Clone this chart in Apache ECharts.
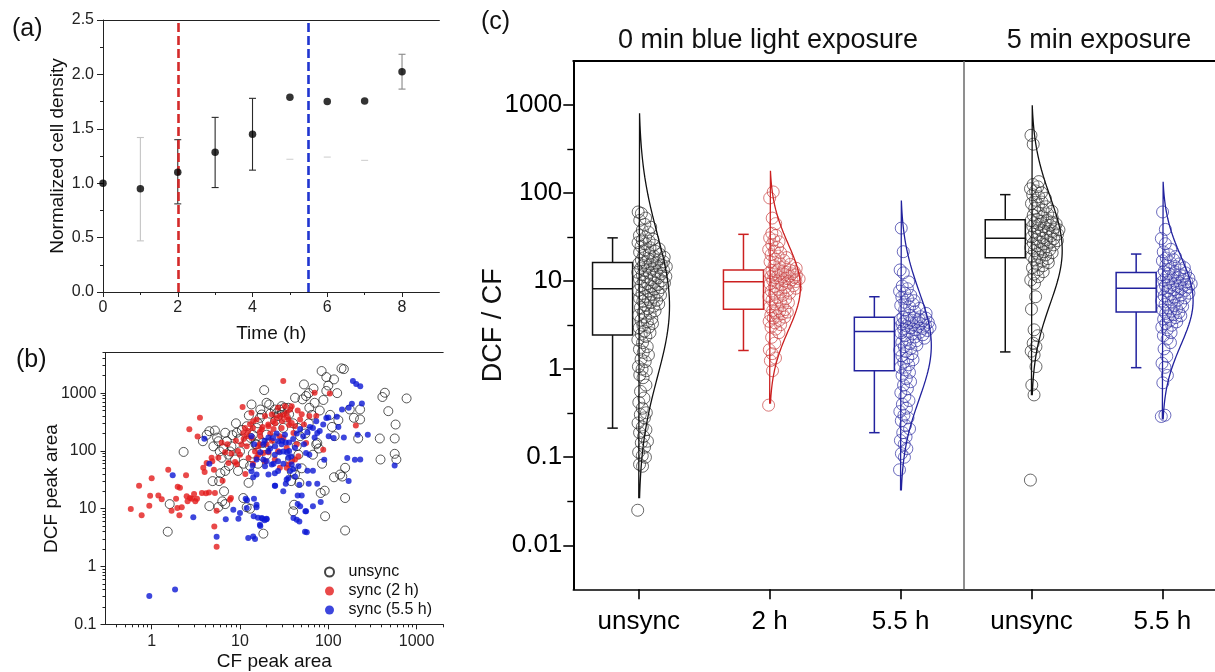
<!DOCTYPE html>
<html><head><meta charset="utf-8">
<script src="https://cdn.jsdelivr.net/npm/echarts@6/dist/echarts.min.js"></script>
<style>html,body{margin:0;padding:0;background:#fff}#c{width:1215px;height:672px}</style>
</head><body><div id="c"></div>
<script>
// ---------- Panel (a): normalized cell density ----------
const aTime = [0, 1, 2, 3, 4, 5, 6, 7, 8];
const aMean = [1.00, 0.95, 1.10, 1.285, 1.45, 1.79, 1.75, 1.755, 2.025];
const aErrLow = [null, 0.47, 0.81, 0.96, 1.12, 1.22, 1.24, 1.21, 1.865];
const aErrHigh = [null, 1.42, 1.40, 1.605, 1.78, null, null, null, 2.185];
const syncTimes = [2, 5.5];

// ---------- Panel (b): DCF vs CF peak area [CF, DCF] ----------
const bUnsync = [[2.3,96],[1.52,4.0],[1.6,12],[3.8,147],[4.5,219],[5.2,225],[5.7,147],[5.0,120],[5.9,98],[6.8,206],[7.1,147],[8.2,187],[9.2,206],[7.4,86],[6.0,41],[6.8,45],[5.8,30],[6.6,20],[5.7,10.7],[4.5,11.1],[6.8,12],[10.9,15.3],[11.9,10.6],[18.4,3.7],[13.5,636],[18.8,1127],[20,680],[16.8,373],[15.4,250],[13.2,168],[10,98],[8.8,71],[7.7,98],[6.2,76],[11.9,267],[15.4,130],[18,137],[20,191],[21,130],[20,86],[4.9,30],[6.3,13.4],[12.5,28],[13,10],[9.8,160],[10.5,230],[12,150],[8,120],[14,190],[16,300],[11,60],[9.5,45],[7.5,55],[6.5,110],[5.5,170],[4.2,190],[9,300],[12.6,410],[17,520],[22,440],[14,90],[16,60],[19,110],[13,55],[21.4,636],[17.6,426],[24.8,520],[27,400],[30.9,250],[29.6,594],[35.3,557],[42,830],[53,1413],[56,890],[51,780],[61,557],[70,680],[84,2409],[95,1893],[116,1726],[141,2681],[150,2600],[126,1000],[95,1090],[175,521],[195,374],[229,521],[229,350],[437,1014],[410,856],[770,809],[478,487],[578,286],[383,164],[565,164],[565,89],[390,71],[590,71],[218,164],[155,51],[136,39],[116,35],[144,36],[155,15.3],[91,20.5],[82,18.7],[92,7.4],[155,4.2],[41,11.7],[40,9],[36.9,71],[45.9,86],[43.9,121],[73,130],[67,86],[15,130],[24.8,164],[38.5,44.5],[42,39],[118,180],[75,137],[26,450],[28,520],[30,470],[32,560],[25,330],[33,380],[36,430],[40,300],[45,250],[48,180],[55,200],[60,300],[65,420],[80,500],[88,760],[105,420],[110,260],[130,340],[68,1200],[100,1350],[60,1000],[78,110],[85,60],[50,50],[47,28],[38,30]];
const bSync2 = [[0.58,9.9],[0.72,25],[0.77,7.7],[1.0,33.6],[0.96,16.8],[0.94,11.3],[1.19,17],[1.3,14.5],[1.54,47],[1.68,9.2],[1.89,14.9],[1.97,24],[2.09,23],[1.95,10.3],[2.06,7.7],[2.19,10.6],[2.45,38],[2.49,16.4],[2.55,13.4],[2.67,238],[2.72,15.3],[2.86,14.9],[3.02,18],[3.12,13.4],[3.26,14.9],[3.31,177],[3.52,373],[3.71,18.7],[4.12,18.5],[4.46,19],[5.2,18.7],[3.84,51],[3.98,43],[4.19,62],[4.77,76],[5.07,47],[4.86,66],[5.12,4.9],[5.44,2.19],[5.44,9.2],[6.35,30.6],[7.7,14.3],[7.9,15.3],[5.68,76],[6.2,138],[7.2,130],[7.4,62],[8.8,64],[9.2,59],[10,86],[10.4,130],[10.9,205],[10.7,572],[11.4,250],[11.9,120],[12.4,220],[13.5,456],[13.5,168],[14.1,326],[14.8,98],[15.4,76],[16.8,213],[18.4,92],[19.2,400],[20,130],[21,267],[15.4,349],[17.6,235],[16.8,130],[16.1,86],[19.2,66],[20.9,286],[22.9,426],[23.8,326],[27,557],[28.3,400],[29.6,250],[30.9,1615],[32.3,594],[33.8,457],[35.3,349],[36.9,520],[38.5,305],[38.5,594],[40.3,205],[42,267],[43.9,130],[45.9,81],[35.3,58],[33.8,113],[30.9,168],[27,99],[24.8,71],[28.3,51],[38.5,66],[42,71],[53,286],[56,137],[61,400],[70,1014],[73,400],[87.6,105],[104,980],[205,275],[33.8,51],[9.5,100],[11,160],[12,180],[13,290],[14,250],[17,180],[18,260],[22,200],[24,240],[25,300],[26,380],[30,330],[31,420],[34,380],[36,280],[12.5,75],[16,120],[21,95],[23,150],[28,180],[8,90],[9,150],[6.8,95],[11.5,40],[14,60],[45,500],[50,430],[48,350]];
const bSync55 = [[0.94,0.31],[1.84,0.40],[1.73,38],[2.96,7.1],[3.95,162],[4.5,60],[5.44,3.27],[6.9,6.6],[8.4,9.6],[9.6,6.7],[10,8.4],[11.6,14.9],[14.4,14.9],[15.4,10.6],[14.3,7.4],[16.8,5.3],[12.4,3.1],[14.1,3.3],[14.8,3.0],[18,6.7],[20,6.6],[13.5,180],[13.9,56],[13.5,44.5],[14.1,35],[15.4,39],[18.4,71],[19.2,54],[20,66],[21,39],[11.9,10.3],[15.4,71],[18.4,130],[20.9,98],[23.8,168],[27,147],[29.6,130],[24.8,86],[32.3,191],[30.9,98],[27,66],[22.9,58],[24.8,41],[35.3,76],[38.5,58],[42,113],[53,130],[56,92],[61,86],[45.9,54],[42,36],[58,45.5],[67,45.5],[33.8,32],[30.9,20],[24.8,25],[35.3,34],[67,250],[73,326],[75,205],[87.6,286],[95,370],[101,180],[115,168],[143,521],[164,75],[185,653],[190,1615],[207,1430],[230,1320],[215,191],[230,71],[564,56],[56,9],[54.5,4.0],[43.9,6.45],[45,12],[40.3,6.9],[67,11],[15.4,11.7],[17.6,6.9],[20,6.7],[22,110],[25,120],[26,200],[28,95],[30,150],[33,140],[36,100],[40,160],[44,200],[48,240],[52,180],[58,210],[62,260],[70,170],[80,220],[100,380],[125,390],[130,260],[150,170],[170,560],[170,30],[200,70],[240,660],[280,190],[14.5,130],[17,95],[19,150],[21,170],[24,60],[27,45],[31,60],[34,95],[36,140],[38,80],[40,48],[47,26],[50,17],[57,3.9],[60,27],[75,27],[82,13],[90,70],[45,17],[48,11],[47,6],[55,9],[37,45],[33,27],[25,25],[12,14],[16,7],[19,6.3],[17,5]];

// ---------- Panel (c): DCF / CF per group ----------
const cCats = ['unsync', '2 h', '5.5 h', 'unsync', '5.5 h'];
const cUnsync0 = [0.025,0.079,0.083,0.1,0.104,0.114,0.13,0.146,0.152,0.172,0.19,0.205,0.22,0.245,0.28,0.305,0.32,0.36,0.42,0.47,0.56,0.66,0.8,0.86,0.96,1.0,1.07,1.22,1.3,1.45,1.55,1.68,1.8,2.0,2.15,2.35,2.5,2.6,2.7,2.95,3.0,3.15,3.3,3.45,3.6,3.75,3.9,4.1,4.3,4.4,4.6,4.85,5.0,5.2,5.35,5.5,5.7,5.9,6.05,6.2,6.4,6.55,6.7,6.95,7.1,7.25,7.5,7.7,7.85,8.1,8.3,8.45,8.7,8.9,9.1,9.35,9.5,9.7,9.95,10.1,10.4,10.6,10.9,11.1,11.3,11.6,11.8,12.1,12.3,12.6,12.8,13.1,13.3,13.6,13.9,14.1,14.4,14.6,14.9,15.1,15.4,15.6,15.9,16.1,16.3,16.6,17.0,17.4,17.8,18.2,18.7,19.1,19.6,20.2,20.7,21.3,21.9,22.6,23.2,24,24.8,25.6,26.5,27.4,28.5,29.3,30,31.5,33,36,38,41,44,49,52,58.7,61];
const cSync2 = [0.39,0.96,1.25,1.34,1.5,1.66,1.97,2.3,2.6,2.85,3.0,3.2,3.35,3.5,3.6,3.8,3.9,4.0,4.1,4.25,4.35,4.45,4.55,4.65,4.75,4.9,5.1,5.3,5.5,5.7,5.9,6.1,6.3,6.5,6.7,6.9,7.1,7.3,7.5,7.7,7.9,8.1,8.3,8.5,8.7,8.9,9.1,9.3,9.5,9.7,9.9,10.05,10.2,10.35,10.5,10.6,10.75,10.9,11.0,11.15,11.3,11.45,11.6,11.75,11.9,12.0,12.15,12.3,12.45,12.6,12.75,12.9,13.05,13.2,13.35,13.6,14.0,14.5,15.0,15.5,16.0,16.6,17.2,17.8,18.5,19.2,20.0,21.0,22.0,22.8,24,26,28,29.3,31,33,35,45,52,88,103];
const cSync55 = [0.072,0.1,0.11,0.125,0.14,0.155,0.17,0.19,0.21,0.23,0.26,0.28,0.3,0.33,0.36,0.4,0.44,0.49,0.54,0.6,0.66,0.72,0.78,0.85,0.92,0.98,1.05,1.12,1.2,1.28,1.35,1.42,1.5,1.58,1.65,1.72,1.8,1.88,1.95,2.02,2.1,2.18,2.25,2.32,2.4,2.46,2.52,2.58,2.63,2.7,2.75,2.8,2.85,2.9,2.95,3.0,3.05,3.1,3.15,3.2,3.25,3.3,3.35,3.4,3.45,3.5,3.55,3.6,3.65,3.7,3.75,3.8,3.85,3.88,3.95,4.1,4.3,4.5,4.7,4.9,5.1,5.3,5.5,5.75,6.0,6.3,6.6,6.9,7.3,7.7,8.2,8.8,9.8,12.4,13.4,21.6,40];
const c5Unsync = [0.055,0.51,0.66,1.07,1.45,1.6,1.8,1.97,2.4,2.8,4.8,6.65,9.4,10.3,11.2,12,12.8,13.5,14.2,15,15.6,16.2,16.8,17.4,18.0,18.6,19.2,19.8,20.4,21,21.6,22.2,22.8,23.4,24,24.6,25.2,25.8,26.4,27,27.6,28.2,28.8,29.4,30,30.3,31,31.8,32.6,33.4,34.2,35,35.8,36.6,37.4,38.2,39,39.8,40.6,41.4,42.2,43,43.8,44.6,45.4,46.2,47,47.8,48.6,49.3,50.5,52,54,56,58,60,62,64,67,70,73,76,79,83,87,91,96,101,106,112,118,125,135,359,453];
const c5Sync55 = [0.29,0.3,0.7,0.85,1.05,1.17,1.4,1.7,2.0,2.2,2.4,2.6,2.8,3.0,3.15,3.3,3.45,3.6,3.7,3.85,3.95,4.05,4.15,4.3,4.4,4.55,4.7,4.85,5.0,5.15,5.3,5.45,5.6,5.8,5.95,6.1,6.3,6.45,6.6,6.8,6.95,7.1,7.3,7.5,7.7,7.85,8.0,8.15,8.25,8.4,8.55,8.7,8.85,9.0,9.15,9.3,9.5,9.65,9.8,10.0,10.2,10.4,10.6,10.8,11.0,11.2,11.4,11.6,11.8,12.0,12.2,12.4,12.7,13.0,13.4,13.8,14.2,14.7,15.2,15.7,16.3,17.0,17.6,18.3,19.0,20,21.5,23,26.6,30.5,38.7,61];
const cWhiskLo = [0.214, 1.63, 0.19, 1.57, 1.04];
const cQ1 = [2.44, 4.79, 0.96, 18.4, 4.47];
const cMedian = [8.2, 9.85, 2.67, 30.6, 8.3];
const cQ3 = [16.3, 13.4, 3.89, 49.7, 12.5];
const cWhiskHi = [31, 34, 6.65, 96, 20.3];
const cDistGeoMean = [5.25, 8.5, 1.86, 22.4, 6.0];   // centre of fitted (log-normal) curve
const cDistSdDecades = [0.81, 0.49, 0.61, 0.61, 0.50];
const cExposureTitles = ['0 min blue light exposure', '5 min exposure'];

// ---------- styling / layout ----------
const FONT = '"Liberation Sans", Arial, Helvetica, sans-serif';
const L = Math.log10;
const aErrColor = [null, '#c4c4c4', '#333', '#2a2a2a', '#2a2a2a', '#d0d0d0', '#d0d0d0', '#d0d0d0', '#888'];
const aErrLineShown = [false, true, true, true, true, false, false, false, true];
const cGroups = [cUnsync0, cSync2, cSync55, c5Unsync, c5Sync55];
const cLineColor = ['#111', '#cc2020', '#22229e', '#111', '#22229e'];
const cPointColor = ['rgba(35,35,35,0.85)', 'rgba(200,60,60,0.85)', 'rgba(40,40,160,0.85)', 'rgba(35,35,35,0.85)', 'rgba(40,40,160,0.85)'];

function powLabel(v) {
  const n = Math.round(v);
  return n >= 0 ? String(Math.round(Math.pow(10, n))) : Math.pow(10, n).toFixed(-n);
}
function minorLogs(lo, hi) {
  const out = [];
  for (let d = -3; d <= 4; d++) for (let k = 2; k <= 9; k++) {
    const v = k * Math.pow(10, d);
    if (v > lo * 1.0001 && v < hi * 1.0001) out.push(L(v));
  }
  return out;
}
// deterministic beeswarm-like spread: width grows with local density
function spread(vals, ci) {
  const lg = vals.map(L);
  const dens = lg.map(a => lg.filter(b => Math.abs(a - b) < 0.18).length);
  const mx = Math.max.apply(null, dens);
  return lg.map((y, i) => {
    const f = (i * 0.6180339887) % 1;
    return [ci - 0.008 + f * (0.035 + 0.2 * dens[i] / mx), y];
  });
}
function distCurve(ci, gm, sd) {
  const mu = L(gm), lo = mu - 2.7 * sd, hi = mu + 2.7 * sd, n = 90, pts = [];
  for (let k = 0; k <= n; k++) {
    const y = lo + (hi - lo) * k / n;
    pts.push([ci + 0.235 * Math.exp(-((y - mu) * (y - mu)) / (2 * sd * sd)), y]);
  }
  pts.push([ci, hi]); pts.push([ci, lo]);
  return pts;
}

const noSplit = { splitLine: { show: false }, minorSplitLine: { show: false } };
const nameStyle = (s) => ({ fontSize: s, color: '#111', fontFamily: FONT });

const xAxis = [
  Object.assign({ gridIndex: 0, type: 'value', min: 0, max: 9, position: 'bottom',
    axisLine: { show: true, onZero: false, lineStyle: { color: '#222', width: 1 } },
    axisTick: { show: true, customValues: [0, 2, 4, 6, 8], length: 5, lineStyle: { color: '#222' } },
    axisLabel: { show: true, customValues: [0, 2, 4, 6, 8], fontSize: 16, color: '#222', margin: 8, fontFamily: FONT },
    name: 'Time (h)', nameLocation: 'middle', nameGap: 32, nameMoveOverlap: false, nameTextStyle: nameStyle(19) }, noSplit),
  Object.assign({ gridIndex: 0, type: 'value', min: 0, max: 9, position: 'bottom',
    axisLine: { show: false, onZero: false }, axisTick: { show: true, customValues: [1, 3, 5, 7], length: 3, lineStyle: { color: '#222' } },
    axisLabel: { show: false } }, noSplit),
  Object.assign({ gridIndex: 0, type: 'value', min: 0, max: 9, position: 'top',
    axisLine: { show: true, onZero: false, lineStyle: { color: '#222' } }, axisTick: { show: false }, axisLabel: { show: false } }, noSplit),
  // (b)
  Object.assign({ gridIndex: 1, type: 'value', min: L(0.3), max: L(2000), position: 'bottom',
    axisLine: { show: true, onZero: false, lineStyle: { color: '#222' } },
    axisTick: { show: true, customValues: [0, 1, 2, 3], length: 5, lineStyle: { color: '#222' } },
    axisLabel: { show: true, customValues: [0, 1, 2, 3], formatter: powLabel, fontSize: 16, color: '#222', margin: 9, fontFamily: FONT },
    name: 'CF peak area', nameLocation: 'middle', nameGap: 28, nameMoveOverlap: false, nameTextStyle: nameStyle(19) }, noSplit),
  Object.assign({ gridIndex: 1, type: 'value', min: L(0.3), max: L(2000), position: 'bottom',
    axisLine: { show: false, onZero: false }, axisTick: { show: true, customValues: minorLogs(0.3, 2000), length: 3, lineStyle: { color: '#222' } },
    axisLabel: { show: false } }, noSplit),
  Object.assign({ gridIndex: 1, type: 'value', min: L(0.3), max: L(2000), position: 'top',
    axisLine: { show: true, onZero: false, lineStyle: { color: '#222' } }, axisTick: { show: false }, axisLabel: { show: false } }, noSplit),
  // (c)
  Object.assign({ gridIndex: 2, type: 'value', min: -0.5, max: 4.5, position: 'bottom',
    axisLine: { show: true, onZero: false, lineStyle: { color: '#000', width: 1.6 } },
    axisTick: { show: true, customValues: [0, 1, 2, 3, 4], length: 10, lineStyle: { color: '#000', width: 1.6 } },
    axisLabel: { show: true, customValues: [0, 1, 2, 3, 4], formatter: v => cCats[Math.round(v)], fontSize: 26, color: '#000', margin: 20, fontFamily: FONT } }, noSplit),
  Object.assign({ gridIndex: 2, type: 'value', min: -0.5, max: 4.5, position: 'top',
    axisLine: { show: true, onZero: false, lineStyle: { color: '#000', width: 2 } }, axisTick: { show: false }, axisLabel: { show: false } }, noSplit)
];

const yAxis = [
  Object.assign({ gridIndex: 0, type: 'value', min: 0, max: 2.5, interval: 0.5, position: 'left',
    axisLine: { show: true, onZero: false, lineStyle: { color: '#222' } },
    axisTick: { show: true, length: 6, lineStyle: { color: '#222' } },
    minorTick: { show: true, splitNumber: 2, length: 3, lineStyle: { color: '#222' } },
    axisLabel: { show: true, formatter: v => v.toFixed(1), fontSize: 16, color: '#222', margin: 9, fontFamily: FONT },
    name: 'Normalized cell density', nameLocation: 'middle', nameRotate: 90, nameGap: 36, nameMoveOverlap: false, nameTextStyle: nameStyle(19) }, noSplit),
  // (b)
  Object.assign({ gridIndex: 1, type: 'value', min: -1, max: L(5000), position: 'left',
    axisLine: { show: true, onZero: false, lineStyle: { color: '#222' } },
    axisTick: { show: true, customValues: [-1, 0, 1, 2, 3], length: 5, lineStyle: { color: '#222' } },
    axisLabel: { show: true, customValues: [-1, 0, 1, 2, 3], formatter: powLabel, fontSize: 16, color: '#222', margin: 9, fontFamily: FONT },
    name: 'DCF peak area', nameLocation: 'middle', nameRotate: 90, nameGap: 44, nameMoveOverlap: false, nameTextStyle: nameStyle(19) }, noSplit),
  Object.assign({ gridIndex: 1, type: 'value', min: -1, max: L(5000), position: 'left',
    axisLine: { show: false, onZero: false }, axisTick: { show: true, customValues: minorLogs(0.1, 5000), length: 3, lineStyle: { color: '#222' } },
    axisLabel: { show: false } }, noSplit),
  // (c)
  Object.assign({ gridIndex: 2, type: 'value', min: -2.5, max: 3.5, position: 'left',
    axisLine: { show: true, onZero: false, lineStyle: { color: '#000', width: 2 } },
    axisTick: { show: true, customValues: [-2, -1, 0, 1, 2, 3], length: 10, lineStyle: { color: '#000', width: 1.6 } },
    axisLabel: { show: true, customValues: [-2, -1, 0, 1, 2, 3], formatter: powLabel, fontSize: 26, color: '#000', margin: 11, fontFamily: FONT },
    name: 'DCF / CF', nameLocation: 'middle', nameRotate: 90, nameGap: 66, nameMoveOverlap: false, nameTextStyle: nameStyle(27) }, noSplit),
  Object.assign({ gridIndex: 2, type: 'value', min: -2.5, max: 3.5, position: 'left',
    axisLine: { show: false, onZero: false }, axisTick: { show: true, customValues: [-1.5, -0.5, 0.5, 1.5, 2.5], length: 6, lineStyle: { color: '#000', width: 1.4 } },
    axisLabel: { show: false } }, noSplit)
];

const series = [];
// (a) points + sync markers
series.push({
  type: 'scatter', xAxisIndex: 0, yAxisIndex: 0, symbolSize: 7.5, clip: false, z: 5,
  itemStyle: { color: '#000' },
  data: aTime.map((t, i) => [t, aMean[i]]),
  markLine: { symbol: 'none', silent: true, label: { show: false },
    data: [
      { xAxis: syncTimes[0], lineStyle: { color: '#d42a2a', width: 2.6, type: [9, 4] } },
      { xAxis: syncTimes[1], lineStyle: { color: '#2035d0', width: 2.6, type: [9, 4] } }
    ] }
});
series.push({
  type: 'custom', xAxisIndex: 0, yAxisIndex: 0, z: 4, silent: true,
  data: aTime.map((t, i) => [t, aMean[i]]),
  encode: { x: 0, y: 1 },
  renderItem: function (params, api) {
    const i = params.dataIndex, lo = aErrLow[i], hi = aErrHigh[i];
    if (lo == null && hi == null) return { type: 'group', children: [] };
    const t = aTime[i], col = aErrColor[i], cap = 3.5, ch = [];
    const pm = api.coord([t, aMean[i]]);
    const pl = lo != null ? api.coord([t, lo]) : pm;
    const ph = hi != null ? api.coord([t, hi]) : pm;
    const st = { stroke: col, lineWidth: 1.1 };
    if (aErrLineShown[i]) ch.push({ type: 'line', shape: { x1: pl[0], y1: pl[1], x2: ph[0], y2: ph[1] }, style: st });
    if (lo != null) ch.push({ type: 'line', shape: { x1: pl[0] - cap, y1: pl[1], x2: pl[0] + cap, y2: pl[1] }, style: st });
    if (hi != null) ch.push({ type: 'line', shape: { x1: ph[0] - cap, y1: ph[1], x2: ph[0] + cap, y2: ph[1] }, style: st });
    return { type: 'group', children: ch };
  }
});
// (b)
const toLog = arr => arr.map(p => [L(p[0]), L(p[1])]);
series.push({ name: 'unsync', type: 'scatter', xAxisIndex: 3, yAxisIndex: 1, symbolSize: 9, z: 2,
  itemStyle: { color: 'rgba(255,255,255,0)', borderColor: '#151515', borderWidth: 0.9 }, data: toLog(bUnsync) });
series.push({ name: 'sync (2 h)', type: 'scatter', xAxisIndex: 3, yAxisIndex: 1, symbolSize: 6, z: 3,
  itemStyle: { color: '#e41c1c' }, data: toLog(bSync2) });
series.push({ name: 'sync (5.5 h)', type: 'scatter', xAxisIndex: 3, yAxisIndex: 1, symbolSize: 6, z: 4,
  itemStyle: { color: '#0c18d4' }, data: toLog(bSync55) });
// (c) boxes
series.push({
  type: 'custom', xAxisIndex: 6, yAxisIndex: 3, z: 2, silent: true,
  data: cCats.map((c, i) => [i, L(cMedian[i])]), encode: { x: 0, y: 1 },
  renderItem: function (params, api) {
    const i = params.dataIndex, bx = i - 0.2, hw = 0.153, cw = 0.04;
    const P = (x, v) => api.coord([x, L(v)]);
    const st = { stroke: cLineColor[i], lineWidth: 1.5, fill: 'none' };
    const a = P(bx - hw, cQ3[i]), b = P(bx + hw, cQ1[i]);
    const m1 = P(bx - hw, cMedian[i]), m2 = P(bx + hw, cMedian[i]);
    const w3 = P(bx, cQ3[i]), wH = P(bx, cWhiskHi[i]), w1 = P(bx, cQ1[i]), wL = P(bx, cWhiskLo[i]);
    const cl = P(bx - cw, cWhiskHi[i])[0], cr = P(bx + cw, cWhiskHi[i])[0];
    return { type: 'group', children: [
      { type: 'rect', shape: { x: a[0], y: a[1], width: b[0] - a[0], height: b[1] - a[1] }, style: st },
      { type: 'line', shape: { x1: m1[0], y1: m1[1], x2: m2[0], y2: m2[1] }, style: st },
      { type: 'line', shape: { x1: w3[0], y1: w3[1], x2: wH[0], y2: wH[1] }, style: st },
      { type: 'line', shape: { x1: w1[0], y1: w1[1], x2: wL[0], y2: wL[1] }, style: st },
      { type: 'line', shape: { x1: cl, y1: wH[1], x2: cr, y2: wH[1] }, style: st },
      { type: 'line', shape: { x1: cl, y1: wL[1], x2: cr, y2: wL[1] }, style: st }
    ] };
  }
});
// (c) points and distribution curves
cGroups.forEach((vals, i) => {
  const s = { name: 'grp' + i, type: 'scatter', xAxisIndex: 6, yAxisIndex: 3, symbolSize: 12, z: 3, clip: false,
    itemStyle: { color: 'rgba(255,255,255,0.12)', borderColor: cPointColor[i], borderWidth: 1 },
    data: spread(vals, i) };
  if (i === 0) s.markLine = { symbol: 'none', silent: true, label: { show: false },
    data: [{ xAxis: 2.48, lineStyle: { color: '#6a6a6a', width: 1.5, type: 'solid' } }] };
  series.push(s);
});
cGroups.forEach((vals, i) => {
  series.push({ name: 'fit' + i, type: 'line', xAxisIndex: 6, yAxisIndex: 3, z: 4, silent: true,
    showSymbol: false, symbol: 'none', smooth: false,
    lineStyle: { color: cLineColor[i], width: 1.3 },
    data: distCurve(i, cDistGeoMean[i], cDistSdDecades[i]) });
});

const ttl = (text, left, top, size, align) => ({ text, left, top, padding: 0, textAlign: align || 'left', textVerticalAlign: 'top',
  textStyle: { fontSize: size, fontWeight: 'normal', color: '#111', fontFamily: FONT } });

const option = {
  animation: false,
  backgroundColor: '#fff',
  textStyle: { fontFamily: FONT },
  title: [
    ttl('(a)', 12, 17, 25), ttl('(b)', 16, 348, 25), ttl('(c)', 481, 10, 25),
    ttl(cExposureTitles[0], 768, 27, 27, 'center'), ttl(cExposureTitles[1], 1099, 27, 27, 'center')
  ],
  legend: {
    data: ['unsync', 'sync (2 h)', 'sync (5.5 h)'], orient: 'vertical', left: 324, top: 564, padding: 0,
    itemWidth: 28, itemHeight: 9, itemGap: 3, selectedMode: false,
    textStyle: { fontSize: 16, lineHeight: 16, color: '#111', fontFamily: FONT }
  },
  grid: [
    { left: 103, top: 20, width: 336.4, height: 272, containLabel: false, outerBoundsMode: 'none' },
    { left: 105.5, top: 352.7, width: 337.7, height: 271.6, containLabel: false, outerBoundsMode: 'none' },
    { left: 573.3, top: 61, width: 654.5, height: 528.3, containLabel: false, outerBoundsMode: 'none' }
  ],
  xAxis: xAxis, yAxis: yAxis, series: series
};
const chart = echarts.init(document.getElementById('c'), null, { renderer: 'canvas' });
chart.setOption(option);
</script></body></html>
